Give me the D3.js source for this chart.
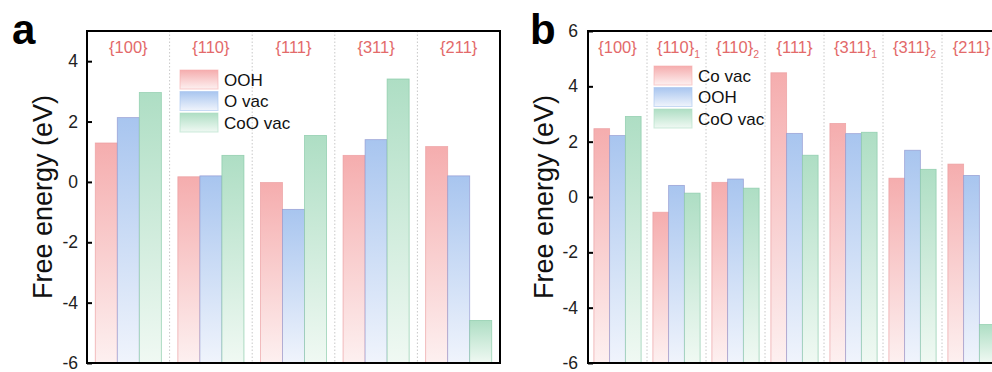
<!DOCTYPE html>
<html>
<head>
<meta charset="utf-8">
<script src="https://cdn.jsdelivr.net/npm/d3@7"></script>
<style>
  body { margin: 0; background: #fff; }
  svg { font-family: "Liberation Sans", Arial, sans-serif; }
</style>
</head>
<body>
<svg id="chart" width="992" height="372"></svg>
<script>
// ---- data ----
var facetsA = ["{100}", "{110}", "{111}", "{311}", "{211}"];
var seriesA = ["OOH", "O vac", "CoO vac"];
var oohA    = [1.29, 0.17, -0.02, 0.88, 1.17];
var ovacA   = [2.13, 0.20, -0.91, 1.40, 0.20];
var coovacA = [2.96, 0.88, 1.54, 3.41, -4.59];
var ticksA  = [-6, -4, -2, 0, 2, 4];

var facetsB = ["{100}", "{110}_1", "{110}_2", "{111}", "{311}_1", "{311}_2", "{211}"];
var seriesB = ["Co vac", "OOH", "CoO vac"];
var covacB  = [2.47, -0.55, 0.53, 4.49, 2.66, 0.68, 1.19];
var oohB    = [2.22, 0.42, 0.65, 2.30, 2.29, 1.69, 0.78];
var coovacB = [2.91, 0.14, 0.32, 1.51, 2.34, 1.00, -4.61];
var ticksB  = [-6, -4, -2, 0, 2, 4, 6];

// colour styles: top of gradient, bottom of gradient, edge
var red   = { top: "#f5adae", bottom: "#fdf0f0", edge: "#eb9c9f" };
var blue  = { top: "#a8c5ef", bottom: "#f0f4fc", edge: "#9096cf" };
var green = { top: "#aedec4", bottom: "#f0f9f3", edge: "#86c9a6" };

var svg = d3.select("#chart");
var defs = svg.append("defs");

function makeGrad(id, c) {
  var g = defs.append("linearGradient")
    .attr("id", id)
    .attr("x1", 0).attr("y1", 0).attr("x2", 0).attr("y2", 1);
  g.append("stop").attr("offset", "0%").attr("stop-color", c.top);
  g.append("stop").attr("offset", "100%").attr("stop-color", c.bottom);
}
makeGrad("g-red", red);
makeGrad("g-blue", blue);
makeGrad("g-green", green);

// draw one panel
function drawPanel(opt) {
  var x0 = opt.x0, x1 = opt.x1, top = 31, bottom = 363;
  var g = svg.append("g");

  var y = d3.scaleLinear().domain(opt.domain).range([bottom, top]);
  var x = d3.scaleBand().domain(opt.facets).range([x0, x1]);
  var bw = x.bandwidth();
  var xs = d3.scaleBand().domain(opt.series).range([bw * 0.1, bw * 0.9]);

  // dotted separators between facets
  g.selectAll("line.sep")
    .data(opt.facets.slice(1))
    .enter().append("line")
    .attr("class", "sep")
    .attr("x1", d => x(d)).attr("x2", d => x(d))
    .attr("y1", top).attr("y2", bottom)
    .attr("stroke", "#c8c8c8")
    .attr("stroke-width", 1)
    .attr("stroke-dasharray", "1.5,2");

  // bars: from bottom of axis up to the value
  opt.series.forEach(function(s, si) {
    var vals = opt.values[si];
    var st = opt.styles[si];
    g.selectAll(null)
      .data(opt.facets)
      .enter().append("rect")
      .attr("x", d => x(d) + xs(s))
      .attr("width", xs.bandwidth())
      .attr("y", (d, i) => y(vals[i]))
      .attr("height", (d, i) => bottom - y(vals[i]))
      .attr("fill", "url(#" + st.grad + ")")
      .attr("stroke", st.c.edge)
      .attr("stroke-width", 0.8)
      .attr("stroke-opacity", 0.8);
  });

  // facet labels with optional subscripts
  var lab = g.selectAll("text.facet")
    .data(opt.facets)
    .enter().append("text")
    .attr("class", "facet")
    .attr("x", d => x(d) + bw / 2 + (d.indexOf("_") > 0 ? 2 : 0))
    .attr("y", 53)
    .attr("text-anchor", "middle")
    .attr("fill", "#e36a6a")
    .attr("font-size", 16.5);
  lab.each(function(d) {
    var parts = d.split("_");
    var t = d3.select(this);
    t.append("tspan").text(parts[0]);
    if (parts[1]) {
      t.append("tspan").attr("dy", 5).attr("font-size", 10.5).text(parts[1]);
    }
  });

  // left axis with inside ticks
  var axis = g.append("g")
    .attr("transform", "translate(" + x0 + ",0)")
    .call(d3.axisLeft(y).tickValues(opt.ticks).tickFormat(d => String(d))
      .tickSizeInner(-5).tickSizeOuter(0).tickPadding(opt.pad));
  axis.select(".domain").remove();
  axis.selectAll(".tick line").attr("stroke", "#000").attr("stroke-width", 2);
  axis.selectAll(".tick text")
    .attr("font-size", 17.5)
    .attr("font-family", "Liberation Sans, Arial, sans-serif")
    .attr("fill", "#222");

  // frame
  g.append("rect")
    .attr("x", x0).attr("y", top)
    .attr("width", x1 - x0).attr("height", bottom - top)
    .attr("fill", "none")
    .attr("stroke", "#000")
    .attr("stroke-width", 2);

  // axis title
  g.append("text")
    .attr("transform", "translate(" + opt.titleX + "," + ((top + bottom) / 2) + ") rotate(-90)")
    .attr("text-anchor", "middle")
    .attr("font-size", 27)
    .attr("fill", "#111")
    .text("Free energy (eV)");

  // panel letter
  g.append("text")
    .attr("x", opt.letterX).attr("y", 44)
    .attr("font-size", 42)
    .attr("font-weight", "bold")
    .text(opt.letter);

  // legend
  var leg = g.selectAll("g.leg")
    .data(opt.series)
    .enter().append("g")
    .attr("class", "leg")
    .attr("transform", (d, i) => "translate(" + opt.legX + "," + (opt.legY + i * 21.5) + ")");
  leg.append("rect")
    .attr("width", 38).attr("height", 19)
    .attr("fill", (d, i) => "url(#" + opt.styles[i].grad + ")")
    .attr("stroke", (d, i) => opt.styles[i].c.top)
    .attr("stroke-opacity", 0.6)
    .attr("stroke-width", 1);
  leg.append("text")
    .attr("x", 44).attr("y", 15.5)
    .attr("font-size", 17)
    .attr("fill", "#111")
    .text(d => d);
}

drawPanel({
  letter: "a", letterX: 12,
  x0: 87, x1: 500,
  domain: [-6, 5],
  ticks: ticksA, pad: 9,
  facets: facetsA, series: seriesA,
  values: [oohA, ovacA, coovacA],
  styles: [{ grad: "g-red", c: red }, { grad: "g-blue", c: blue }, { grad: "g-green", c: green }],
  titleX: 52,
  legX: 180, legY: 70
});

drawPanel({
  letter: "b", letterX: 530,
  x0: 588, x1: 1001,
  domain: [-6, 6],
  ticks: ticksB, pad: 10,
  facets: facetsB, series: seriesB,
  values: [covacB, oohB, coovacB],
  styles: [{ grad: "g-red", c: red }, { grad: "g-blue", c: blue }, { grad: "g-green", c: green }],
  titleX: 553,
  legX: 654, legY: 66
});
</script>
</body>
</html>
